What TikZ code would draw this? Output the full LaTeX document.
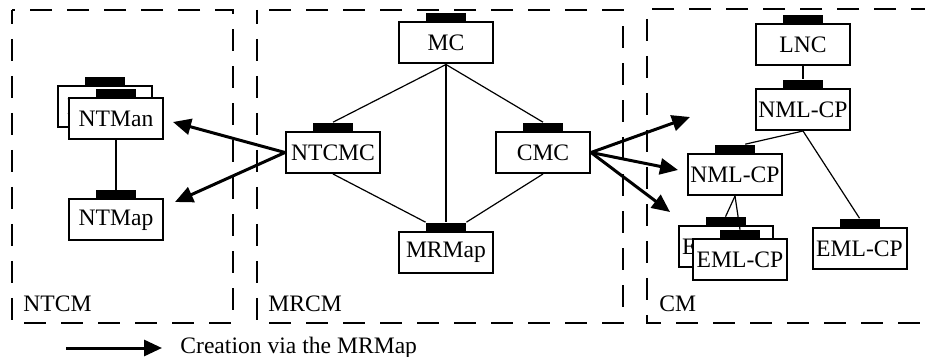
\documentclass[tikz,border=0pt]{standalone}
\usepackage{fontspec}
\setmainfont{Liberation Serif}
\usetikzlibrary{arrows.meta,positioning,calc}

\begin{document}
\begin{tikzpicture}[x=0.5pt, y=-0.5pt,
  unit/.style={draw, line width=1pt, fill=white, minimum width=47pt,
               minimum height=20.5pt, inner sep=0pt, font=\fontsize{11.8}{14}\selectfont},
  tab/.style={fill=black, minimum width=20pt, minimum height=4pt, inner sep=0pt, anchor=south},
  region/.style={dash pattern=on 11pt off 7.5pt, dash phase=4pt, line width=1pt},
  link/.style={line width=0.6pt},
  create/.style={line width=1.5pt, -{Triangle[length=9pt,width=8pt]}},
  lbl/.style={anchor=base west, inner sep=0pt, font=\fontsize{11.8}{14}\selectfont},
]
\useasboundingbox (0,0) rectangle (925,357);

% management regions
\draw[region] (12,10) rectangle (233,323);
\draw[region] (257,10) rectangle (623,323);
\draw[region] (925,9) -- (647,9) -- (647,323) -- (925,323);
\node[lbl] (ntcmlbl) at (23,312) {NTCM};
\node[lbl] (mrcmlbl) at (268,312) {MRCM};
\node[lbl] (cmlbl) at (659,312) {CM};

% NTCM
\node[unit] (ntmanback) at (104.5,106.5) {NTMan};
\node[tab] (ntmanbacktab) at (ntmanback.north) {};
\node[unit] (ntman) at (116,118.5) {NTMan};
\node[tab] (ntmantab) at (ntman.north) {};
\node[unit] (ntmap) at (116,220) {NTMap};
\node[tab] (ntmaptab) at (ntmap.north) {};

% MRCM
\node[unit] (mc) at (446,43) {MC};
\node[tab] (mctab) at (mc.north) {};
\node[unit] (ntcmc) at (333,152.5) {NTCMC};
\node[tab] (ntcmctab) at (ntcmc.north) {};
\node[unit] (cmc) at (543,152.5) {CMC};
\node[tab] (cmctab) at (cmc.north) {};
\node[unit] (mrmap) at (446,252.5) {MRMap};
\node[tab] (mrmaptab) at (mrmap.north) {};

% CM
\node[unit] (lnc) at (803,44.5) {LNC};
\node[tab] (lnctab) at (lnc.north) {};
\node[unit] (nmla) at (803,109.5) {NML-CP};
\node[tab] (nmlatab) at (nmla.north) {};
\node[unit] (nmlb) at (735,174.5) {NML-CP};
\node[tab] (nmlbtab) at (nmlb.north) {};
\node[unit] (emlback) at (725.5,247) {EML-CP};
\node[tab] (emlbacktab) at (emlback.north) {};
\node[unit] (emlfront) at (740,260) {EML-CP};
\node[tab] (emlfronttab) at (emlfront.north) {};
\node[unit] (emlright) at (859.5,248.5) {EML-CP};
\node[tab] (emlrighttab) at (emlright.north) {};

% containment links
\draw[link] (ntman.south) -- (ntmaptab.north);
\draw[link] (mc.south) -- (ntcmctab.north);
\draw[link] (mc.south) -- (cmctab.north);
\draw[link] (mc.south) -- (mrmaptab.north);
\draw[link] (ntcmc.south) -- (mrmaptab.north west);
\draw[link] (cmc.south) -- (mrmaptab.north east);
\draw[link] (lnc.south) -- (nmlatab.north);
\draw[link] (nmla.south) -- ($(nmlbtab.north)!0.5!(nmlbtab.north east)$);
\draw[link] (nmla.south) -- (emlrighttab.north);
\draw[link] (nmlb.south) -- (emlbacktab.north);
\draw[link] (nmlb.south) -- (emlfronttab.north);

% creation arrows
\coordinate (tipman) at (173,122);
\coordinate (tipmap) at (175,202);
\coordinate (tipa) at (690,117);
\coordinate (tipb) at (678,170);
\coordinate (tipc) at (670,212);
\draw[create] (ntcmc.west) -- (tipman);
\draw[create] (ntcmc.west) -- (tipmap);
\draw[create] (cmc.east) -- (tipa);
\draw[create] (cmc.east) -- (tipb);
\draw[create] (cmc.east) -- (tipc);

% legend
\coordinate (legstart) at (66,348);
\coordinate (legend) at (162,348);
\draw[create] (legstart) -- (legend);
\node[lbl] (legtext) at (180,353) {Creation via the MRMap};

\end{tikzpicture}
\end{document}
